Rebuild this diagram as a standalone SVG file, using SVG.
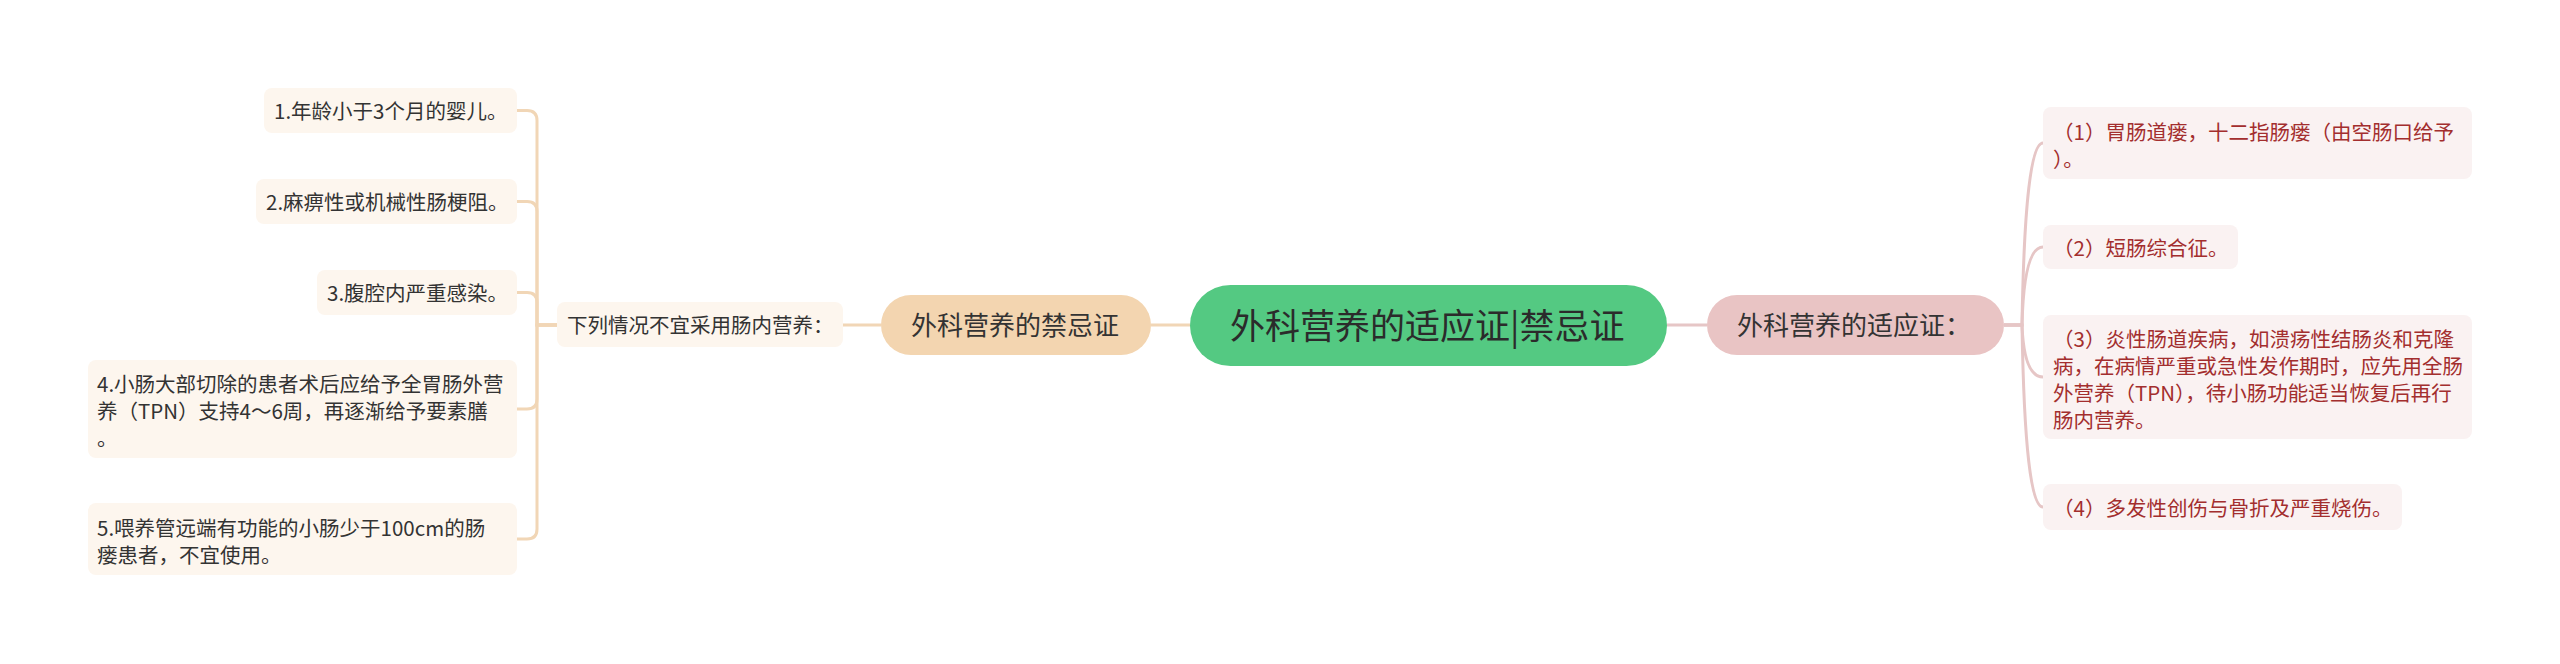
<svg xmlns="http://www.w3.org/2000/svg" width="2560" height="664" viewBox="0 0 2560 664">
<style>
text{font-family:"Noto Sans CJK SC","Noto Sans",sans-serif;}
.lf{fill:#FDF6EE;}
.rf{fill:#FAF2F2;}
.lt{font-size:20.5px;fill:#333333;}
.rt{font-size:20.5px;fill:#A32E2E;}
.mt{font-size:26px;fill:#333333;}
.ct{font-size:35px;fill:#2B2B2B;}
.lc{fill:none;stroke:#F1D6B6;stroke-width:3;}
.rc{fill:none;stroke:#E6C6C6;stroke-width:3;}
</style>
<rect width="2560" height="664" fill="#FFFFFF"/>
<g id="connectors">
<path class="lc" d="M1190,325 H1151"/>
<path class="lc" d="M881,325 H843"/>
<path class="lc" d="M557,325 H537 V120.5 Q537,110.5 527,110.5 H517"/>
<path class="lc" d="M557,325 H537 V211.5 Q537,201.5 527,201.5 H517"/>
<path class="lc" d="M557,325 H537 V302.5 Q537,292.5 527,292.5 H517"/>
<path class="lc" d="M557,325 H537 V399 Q537,409 527,409 H517"/>
<path class="lc" d="M557,325 H537 V529 Q537,539 527,539 H517"/>
<path class="rc" d="M1667,325 H1707"/>
<path class="rc" d="M2004,325 H2022 Q2025,143 2043,143"/>
<path class="rc" d="M2004,325 H2022 Q2024,247 2043,247"/>
<path class="rc" d="M2004,325 H2022 Q2024,377 2043,377"/>
<path class="rc" d="M2004,325 H2022 Q2025,507 2043,507"/>
</g>
<g id="center">
<rect x="1190" y="285" width="477" height="81" rx="40.5" fill="#54C982"/>
<text class="ct" x="1230" y="338.5">外科营养的适应证|禁忌证</text>
</g>
<g id="left-main">
<rect x="881" y="295" width="270" height="60" rx="30" fill="#F3D5B0"/>
<text class="mt" x="911" y="335">外科营养的禁忌证</text>
</g>
<g id="right-main">
<rect x="1707" y="295" width="297" height="60" rx="30" fill="#E9C4C4"/>
<text class="mt" x="1737" y="335">外科营养的适应证：</text>
</g>
<g id="left-sub">
<rect class="lf" x="557" y="302" width="286" height="45" rx="8"/>
<text class="lt" x="567" y="333">下列情况不宜采用肠内营养：</text>
</g>
<g id="left-leaf-1">
<rect class="lf" x="264" y="88" width="253" height="45" rx="8"/>
<text class="lt" x="274" y="119">1.年龄小于3个月的婴儿。</text>
</g>
<g id="left-leaf-2">
<rect class="lf" x="256" y="179" width="261" height="45" rx="8"/>
<text class="lt" x="266" y="210">2.麻痹性或机械性肠梗阻。</text>
</g>
<g id="left-leaf-3">
<rect class="lf" x="317" y="270" width="200" height="45" rx="8"/>
<text class="lt" x="327" y="301">3.腹腔内严重感染。</text>
</g>
<g id="left-leaf-4">
<rect class="lf" x="88" y="360" width="429" height="98" rx="8"/>
<text class="lt" x="97" y="392">4.小肠大部切除的患者术后应给予全胃肠外营</text>
<text class="lt" x="97" y="419">养（TPN）支持4～6周，再逐渐给予要素膳</text>
<text class="lt" x="97" y="446">。</text>
</g>
<g id="left-leaf-5">
<rect class="lf" x="88" y="503" width="429" height="72" rx="8"/>
<text class="lt" x="97" y="535.5">5.喂养管远端有功能的小肠少于100cm的肠</text>
<text class="lt" x="97" y="562.5">瘘患者，不宜使用。</text>
</g>
<g id="right-leaf-1">
<rect class="rf" x="2043" y="107" width="429" height="72" rx="8"/>
<text class="rt" x="2053" y="139.5">（1）胃肠道瘘，十二指肠瘘（由空肠口给予</text>
<text class="rt" x="2053" y="166.5">）。</text>
</g>
<g id="right-leaf-2">
<rect class="rf" x="2043" y="225" width="195" height="44" rx="8"/>
<text class="rt" x="2053" y="256">（2）短肠综合征。</text>
</g>
<g id="right-leaf-3">
<rect class="rf" x="2043" y="315" width="429" height="124" rx="8"/>
<text class="rt" x="2053" y="346.5">（3）炎性肠道疾病，如溃疡性结肠炎和克隆</text>
<text class="rt" x="2053" y="373.5">病，在病情严重或急性发作期时，应先用全肠</text>
<text class="rt" x="2053" y="400.5">外营养（TPN），待小肠功能适当恢复后再行</text>
<text class="rt" x="2053" y="427.5">肠内营养。</text>
</g>
<g id="right-leaf-4">
<rect class="rf" x="2043" y="484" width="359" height="46" rx="8"/>
<text class="rt" x="2053" y="516">（4）多发性创伤与骨折及严重烧伤。</text>
</g>
</svg>
